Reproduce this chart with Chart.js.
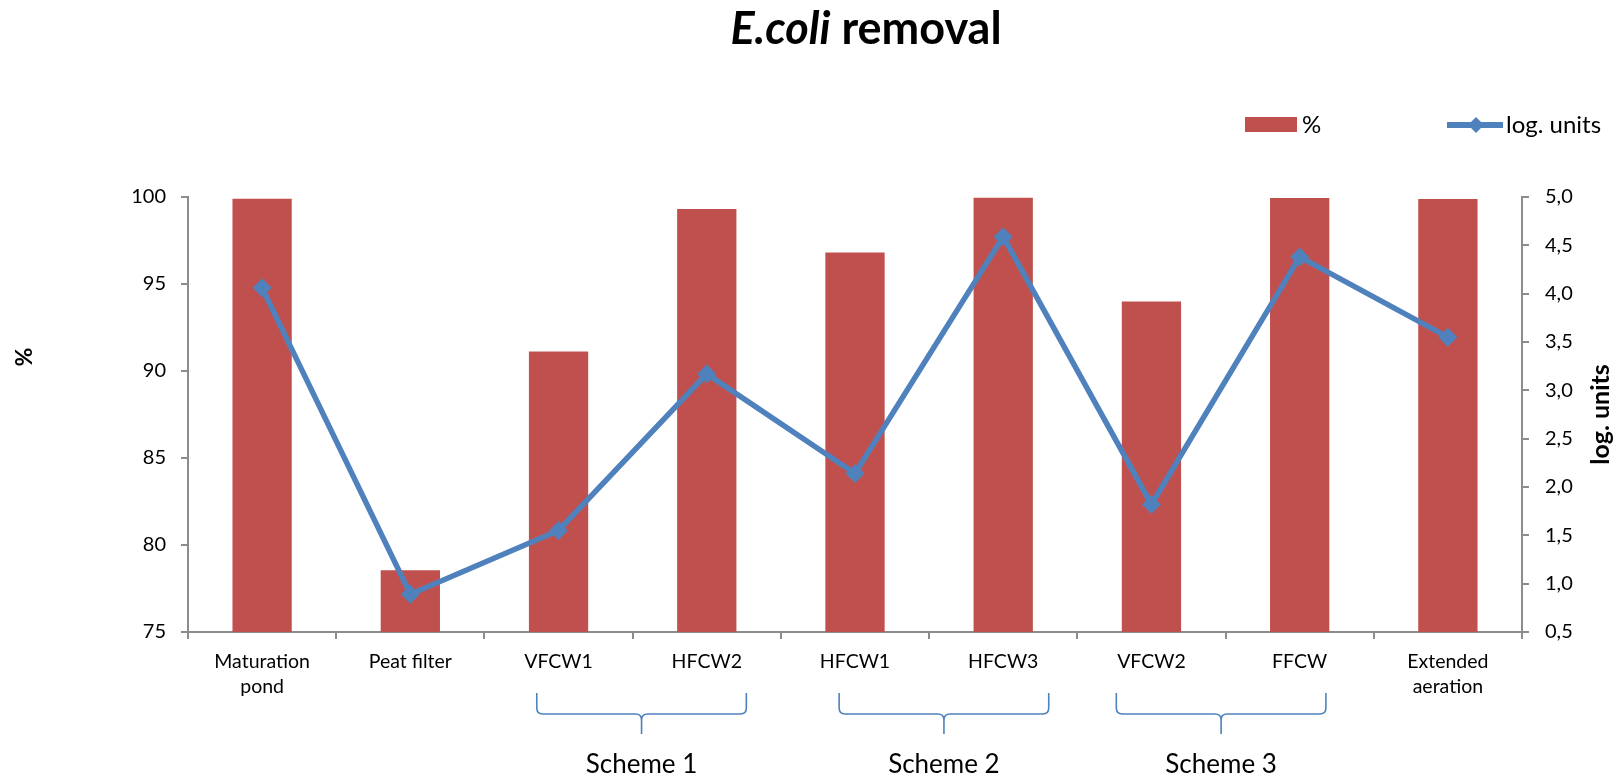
<!DOCTYPE html>
<html>
<head>
<meta charset="utf-8">
<script src="https://cdn.jsdelivr.net/npm/chart.js@4"></script>
<style>
  html, body { margin: 0; padding: 0; background: #fff; }
  #grafico { display: block; }
</style>
</head>
<body>
<canvas id="grafico" width="1620" height="781"></canvas>
<script>
// data
const categorias = [
  ['Maturation', 'pond'], 'Peat filter', 'VFCW1', 'HFCW2',
  'HFCW1', 'HFCW3', 'VFCW2', 'FFCW', ['Extended', 'aeration']
];
const remocaoPct = [99.9, 78.55, 91.12, 99.31, 96.81, 99.96, 94.0, 99.94, 99.88];
const remocaoLog = [4.06, 0.89, 1.55, 3.17, 2.14, 4.59, 1.82, 4.38, 3.55];
const ticksPct = [75, 80, 85, 90, 95, 100];
const ticksLog = [0.5, 1.0, 1.5, 2.0, 2.5, 3.0, 3.5, 4.0, 4.5, 5.0];
const esquemas = ['Scheme 1', 'Scheme 2', 'Scheme 3'];
const esquemaInicio = [2, 4, 6];
const esquemaFim = [3, 5, 7];

const VERMELHO = '#C0504D';
const AZUL = '#4F81BD';
const CINZA = '#8c8c8c';
const FONTE = 'Lato, "Open Sans", sans-serif';

// title, legend, braces, axis titles
const extras = {
  id: 'extras',
  afterDraw(chart) {
    const c = chart.ctx;
    const area = chart.chartArea;
    const x = chart.scales.x;
    c.save();
    c.fillStyle = '#000';
    c.textBaseline = 'middle';

    // titulo
    c.font = 'italic bold 45px ' + FONTE;
    const w1 = c.measureText('E.coli').width;
    c.font = 'bold 45px ' + FONTE;
    const w2 = c.measureText(' removal').width;
    const tx = 866 - (w1 + w2) / 2;
    c.textAlign = 'left';
    c.font = 'italic bold 45px ' + FONTE;
    c.fillText('E.coli', tx, 29);
    c.font = 'bold 45px ' + FONTE;
    c.fillText(' removal', tx + w1, 29);

    // legenda
    c.font = '24px ' + FONTE;
    c.fillStyle = VERMELHO;
    c.fillRect(1245, 117, 52, 15);
    c.fillStyle = '#000';
    c.fillText('%', 1302, 125);
    c.strokeStyle = AZUL;
    c.lineWidth = 6;
    c.beginPath();
    c.moveTo(1447, 125);
    c.lineTo(1503, 125);
    c.stroke();
    c.fillStyle = AZUL;
    c.beginPath();
    c.moveTo(1476, 117); c.lineTo(1484, 125); c.lineTo(1476, 133); c.lineTo(1468, 125);
    c.closePath();
    c.fill();
    c.fillStyle = '#000';
    c.fillText('log. units', 1506, 125);

    // titulos dos eixos
    c.textAlign = 'center';
    c.save();
    c.translate(25, 357);
    c.rotate(-Math.PI / 2);
    c.font = 'bold 23px ' + FONTE;
    c.fillText('%', 0, 0);
    c.restore();
    c.save();
    c.translate(1601, (area.top + area.bottom) / 2);
    c.rotate(-Math.PI / 2);
    c.font = 'bold 25px ' + FONTE;
    c.fillText('log. units', 0, 0);
    c.restore();

    // chaves dos esquemas
    const catW = x.getPixelForValue(1) - x.getPixelForValue(0);
    const desvio = [0.06, 0.1, -0.03];
    const topo = 693, linha = 714, ponta = 734, r = 6;
    c.strokeStyle = AZUL;
    c.lineWidth = 1.6;
    esquemas.forEach((nome, i) => {
      const C = (x.getPixelForValue(esquemaInicio[i]) + x.getPixelForValue(esquemaFim[i])) / 2 + desvio[i] * catW;
      const L = C - 0.707 * catW;
      const R = C + 0.707 * catW;
      c.beginPath();
      c.moveTo(L, topo);
      c.lineTo(L, linha - r);
      c.quadraticCurveTo(L, linha, L + r, linha);
      c.lineTo(C - r, linha);
      c.quadraticCurveTo(C, linha, C, linha + r);
      c.lineTo(C, ponta);
      c.moveTo(R, topo);
      c.lineTo(R, linha - r);
      c.quadraticCurveTo(R, linha, R - r, linha);
      c.lineTo(C + r, linha);
      c.quadraticCurveTo(C, linha, C, linha + r);
      c.stroke();
      c.fillStyle = '#000';
      c.font = '26px ' + FONTE;
      c.fillText(nome, C, 765);
    });
    c.restore();
  }
};

function criarGrafico() {
  const ctx = document.getElementById('grafico').getContext('2d');
  new Chart(ctx, {
    type: 'bar',
    data: {
      labels: categorias,
      datasets: [
        {
          type: 'line',
          label: 'log. units',
          data: remocaoLog,
          yAxisID: 'y1',
          borderColor: AZUL,
          backgroundColor: AZUL,
          borderWidth: 5.5,
          pointStyle: 'rectRot',
          pointRadius: 9.5,
          pointBorderWidth: 0,
          tension: 0,
          order: 1
        },
        {
          label: '%',
          data: remocaoPct,
          yAxisID: 'y',
          backgroundColor: VERMELHO,
          barPercentage: 0.4,
          categoryPercentage: 1,
          order: 2
        }
      ]
    },
    options: {
      responsive: false,
      animation: false,
      layout: { padding: { top: 197, left: 0, right: 0, bottom: 0 } },
      plugins: {
        legend: { display: false },
        title: { display: false },
        tooltip: { enabled: false }
      },
      scales: {
        x: {
          offset: true,
          grid: { display: true, drawOnChartArea: false, offset: true, color: CINZA, tickLength: 7, lineWidth: 2 },
          border: { color: CINZA, width: 2 },
          ticks: {
            color: '#000', font: { family: FONTE, size: 19.5, lineHeight: 1.28 },
            padding: 10, maxRotation: 0, autoSkip: false
          },
          afterFit(s) { s.height = 781 - 632; }
        },
        y: {
          position: 'left',
          min: 75, max: 100,
          afterBuildTicks(s) { s.ticks = ticksPct.map(v => ({ value: v })); },
          grid: { drawOnChartArea: false, color: CINZA, tickLength: 7, lineWidth: 2 },
          border: { color: CINZA, width: 2 },
          ticks: { color: '#000', font: { family: FONTE, size: 20 }, padding: 15 },
          afterFit(s) { s.width = 188; }
        },
        y1: {
          position: 'right',
          min: 0.5, max: 5,
          afterBuildTicks(s) { s.ticks = ticksLog.map(v => ({ value: v })); },
          grid: { drawOnChartArea: false, color: CINZA, tickLength: 7, lineWidth: 2 },
          border: { color: CINZA, width: 2 },
          ticks: {
            color: '#000', font: { family: FONTE, size: 20 }, padding: 16,
            callback: v => v.toFixed(1).replace('.', ',')
          },
          afterFit(s) { s.width = 1620 - 1522; }
        }
      }
    },
    plugins: [extras]
  });
}

window.onload = function () {
  criarGrafico();
};
</script>
</body>
</html>
